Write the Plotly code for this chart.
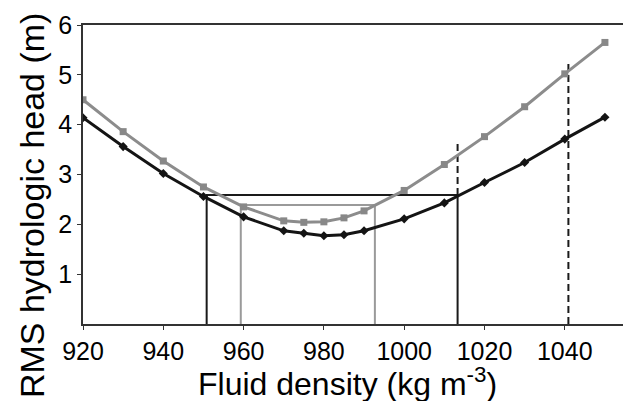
import plotly.graph_objects as go

density = [920, 930, 940, 950, 960, 970, 975, 980, 985, 990, 1000, 1010, 1020, 1030, 1040, 1050]
rms_black = [4.14, 3.56, 3.02, 2.56, 2.15, 1.87, 1.82, 1.77, 1.79, 1.87, 2.11, 2.43, 2.84, 3.24, 3.71, 4.15]
rms_gray = [4.50, 3.86, 3.27, 2.75, 2.35, 2.07, 2.04, 2.05, 2.13, 2.27, 2.68, 3.20, 3.76, 4.36, 5.02, 5.65]

black_box_x = [950.8, 950.8, 1013.3, 1013.3]
black_box_y = [0, 2.59, 2.59, 0]
gray_box_x = [959.3, 959.3, 992.7, 992.7]
gray_box_y = [0, 2.39, 2.39, 0]
dash1_x = [1013.3, 1013.3]
dash1_y = [2.59, 3.69]
dash2_x = [1040.9, 1040.9]
dash2_y = [0, 5.26]

x_ticks = [920, 940, 960, 980, 1000, 1020, 1040]
y_ticks = [1, 2, 3, 4, 5, 6]
x_title = "Fluid density (kg m<sup>-3</sup>)"
y_title = "RMS hydrologic head (m)"

fig = go.Figure()
fig.add_trace(go.Scatter(x=gray_box_x, y=gray_box_y, mode="lines",
                         line=dict(color="#9a9a9a", width=2), showlegend=False))
fig.add_trace(go.Scatter(x=black_box_x, y=black_box_y, mode="lines",
                         line=dict(color="#1a1a1a", width=2), showlegend=False))
fig.add_trace(go.Scatter(x=dash1_x, y=dash1_y, mode="lines",
                         line=dict(color="#1a1a1a", width=2, dash="7px,4px"), showlegend=False))
fig.add_trace(go.Scatter(x=dash2_x, y=dash2_y, mode="lines",
                         line=dict(color="#1a1a1a", width=2, dash="7px,4px"), showlegend=False))
fig.add_trace(go.Scatter(x=density, y=rms_gray, mode="lines+markers",
                         line=dict(color="#8c8c8c", width=3),
                         marker=dict(symbol="square", size=7, color="#888888"),
                         showlegend=False))
fig.add_trace(go.Scatter(x=density, y=rms_black, mode="lines+markers",
                         line=dict(color="#141414", width=3),
                         marker=dict(symbol="diamond", size=7, color="#141414"),
                         showlegend=False))

font_family = "Liberation Sans, Arial, sans-serif"
fig.update_layout(
    width=623, height=401,
    margin=dict(l=83, r=0, t=25, b=77),
    plot_bgcolor="white", paper_bgcolor="white",
    font=dict(family=font_family, color="black"),
    xaxis=dict(range=[920, 1054.5], tickvals=x_ticks, showgrid=False, zeroline=False,
               automargin=False,
               showline=True, linecolor="#333333", linewidth=1.5, mirror=True,
               ticks="outside", ticklen=4, tickcolor="#333333", tickfont=dict(size=25)),
    yaxis=dict(range=[0, 6], tickvals=y_ticks, showgrid=False, zeroline=False,
               automargin=False,
               showline=True, linecolor="#333333", linewidth=1.5, mirror=False,
               ticks="outside", ticklen=4, tickcolor="#333333", tickfont=dict(size=25)),
    annotations=[
        dict(text=y_title, xref="paper", yref="paper", x=-0.0944, y=0.3946,
             xanchor="center", yanchor="middle", textangle=-90, showarrow=False,
             font=dict(size=34)),
        dict(text=x_title, xref="paper", yref="paper", x=0.4907, y=-0.119,
             xanchor="center", yanchor="top", showarrow=False,
             font=dict(size=32)),
    ],
)

fig.write_html("out.html", config={"displayModeBar": False},
               post_script="document.body.style.margin='0';document.body.style.overflow='hidden';")
